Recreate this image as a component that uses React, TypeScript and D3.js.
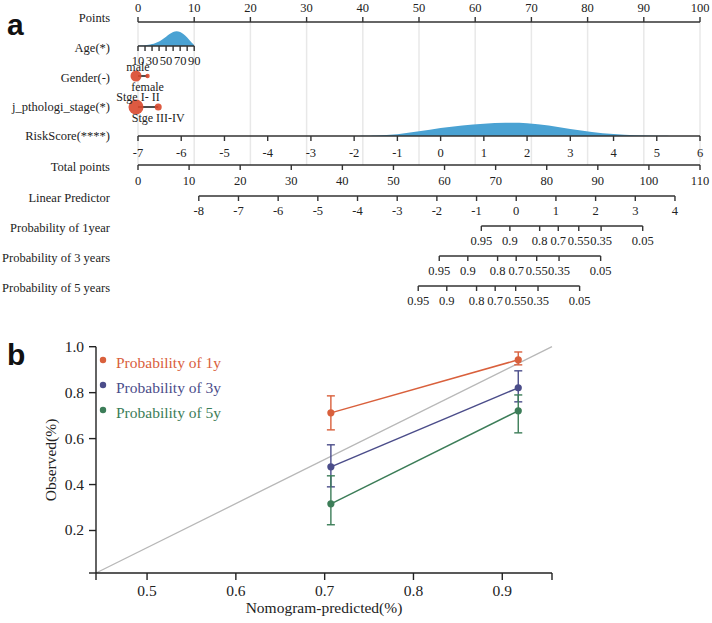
import React from "react";
import * as d3 from "d3";

// ---------- Nomogram data ----------
const rowNames = [
  "Points",
  "Age(*)",
  "Gender(-)",
  "j_pthologi_stage(*)",
  "RiskScore(****)",
  "Total points",
  "Linear Predictor",
  "Probability of 1year",
  "Probability of 3 years",
  "Probability of 5 years",
];
const pointsTicks = [0, 10, 20, 30, 40, 50, 60, 70, 80, 90, 100];
const ageTicks = [10, 20, 30, 40, 50, 60, 70, 80, 90];
const ageLabels = [10, 30, 50, 70, 90];
const ageDensAge = [10, 15, 20, 25, 30, 35, 40, 45, 50, 55, 60, 65, 70, 75, 80, 85, 90];
const ageDensVal = [0.02, 0.03, 0.05, 0.08, 0.12, 0.2, 0.3, 0.45, 0.62, 0.8, 0.95, 1.0, 0.95, 0.8, 0.58, 0.3, 0.06];
const ageMaxPoints = 10;
const genderCats = ["male", "female"];
const genderPoints = [0, 1.7];
const genderFreq = [5.5, 2.2];
const stageCats = ["Stge I- II", "Stge III-IV"];
const stagePoints = [0, 3.6];
const stageFreq = [7.5, 3.5];
const riskTicks = [-7, -6, -5, -4, -3, -2, -1, 0, 1, 2, 3, 4, 5, 6];
const riskDensScore = [-2, -1.5, -1, -0.5, 0, 0.5, 1, 1.5, 2, 2.5, 3, 3.5, 4, 4.5, 5, 5.5];
const riskDensVal = [0, 0.03, 0.1, 0.34, 0.6, 0.8, 0.92, 1.0, 0.98, 0.8, 0.5, 0.28, 0.13, 0.05, 0.01, 0];
const totalTicks = [0, 10, 20, 30, 40, 50, 60, 70, 80, 90, 100, 110];
const lpTicks = [-8, -7, -6, -5, -4, -3, -2, -1, 0, 1, 2, 3, 4];
const lpTotalAnchor = [11.9, 105.1]; // total points at lp -8 and lp 4
const probTicks = [0.95, 0.9, 0.8, 0.7, 0.55, 0.35, 0.05];
const baselineLogCumHaz = [-2.09, -1.03, -0.5]; // 1, 3, 5 years

// ---------- Calibration data ----------
const calPredicted = [0.707, 0.918];
const calSeries = ["Probability of 1y", "Probability of 3y", "Probability of 5y"];
const calObs1 = [0.712, 0.943];
const calLo1 = [0.638, 0.921];
const calHi1 = [0.786, 0.977];
const calObs3 = [0.477, 0.821];
const calLo3 = [0.39, 0.76];
const calHi3 = [0.573, 0.895];
const calObs5 = [0.316, 0.721];
const calLo5 = [0.225, 0.625];
const calHi5 = [0.438, 0.79];
const calXTicks = [0.5, 0.6, 0.7, 0.8, 0.9];
const calYTicks = [0.2, 0.4, 0.6, 0.8, 1.0];
const calColors = ["#d9603c", "#4b4d8a", "#3c7d58"];

const SERIF = "'Liberation Serif', 'Times New Roman', serif";
const SANS = "'Liberation Sans', Arial, sans-serif";

export default function App() {
  // Nomogram scales
  const x0 = 138, x1 = 700;
  const ptsX = d3.scaleLinear().domain([0, 100]).range([x0, x1]);
  const ageX = d3.scaleLinear().domain([10, 90]).range([ptsX(0), ptsX(ageMaxPoints)]);
  const riskX = d3.scaleLinear().domain([-7, 6]).range([x0, x1]);
  const totalX = d3.scaleLinear().domain([0, 110]).range([x0, x1]);
  const lpX = d3.scaleLinear().domain([-8, 4]).range([totalX(lpTotalAnchor[0]), totalX(lpTotalAnchor[1])]);
  const probToLp = (p: number, h: number) => Math.log(-Math.log(p)) - h;

  const rowY = [22, 46, 76, 107, 136, 165, 196, 226, 256, 286];
  const labelBase = [22, 52, 82, 111, 140, 171, 202, 232, 262, 292];
  const axisColor = "#333";
  const tickFs = 12.5;

  const ageArea = d3
    .area<number>()
    .x((_, i) => ageX(ageDensAge[i]))
    .y0(rowY[1])
    .y1((d) => rowY[1] - d * 15)
    .curve(d3.curveBasis);
  const riskArea = d3
    .area<number>()
    .x((_, i) => riskX(riskDensScore[i]))
    .y0(rowY[4])
    .y1((d) => rowY[4] - d * 13.5)
    .curve(d3.curveBasis);

  // Calibration scales
  const bx = d3.scaleLinear().domain([0.4425, 0.956]).range([96, 552]);
  const by = d3.scaleLinear().domain([0.015, 1.0]).range([573, 346.7]);
  const calObs = [calObs1, calObs3, calObs5];
  const calLo = [calLo1, calLo3, calLo5];
  const calHi = [calHi1, calHi3, calHi5];
  const line = d3
    .line<number>()
    .x((_, i) => bx(calPredicted[i]))
    .y((d) => by(d));

  const hAxis = (
    scale: (v: number) => number,
    ticks: number[],
    y: number,
    labelY: number,
    fmt: (v: number) => string,
    up = false
  ) => (
    <g>
      <line
        x1={scale(ticks[0])}
        x2={scale(ticks[ticks.length - 1])}
        y1={y}
        y2={y}
        stroke={axisColor}
        strokeWidth={1.6}
      />
      {ticks.map((t, i) => (
        <g key={i}>
          <line x1={scale(t)} x2={scale(t)} y1={y} y2={up ? y - 5 : y + 5} stroke={axisColor} strokeWidth={1.4} />
          <text x={scale(t)} y={labelY} textAnchor="middle" fontSize={tickFs} fontFamily={SERIF} fill="#222">
            {fmt(t)}
          </text>
        </g>
      ))}
    </g>
  );

  return (
    <div style={{ position: "absolute", left: 0, top: 0 }}>
      <svg width={712} height={623} style={{ display: "block", background: "#fff" }}>
        {/* Panel label a */}
        <text x={7} y={35} fontSize={30} fontWeight="bold" fontFamily={SANS} fill="#111">
          a
        </text>

        {/* grid lines */}
        {pointsTicks.map((t, i) => (
          <line key={i} x1={ptsX(t)} x2={ptsX(t)} y1={rowY[0]} y2={rowY[5]} stroke="#e8e8e8" strokeWidth={1.5} />
        ))}

        {/* row labels */}
        {rowNames.map((n, i) => (
          <text key={n} x={110} y={labelBase[i]} textAnchor="end" fontSize={12.5} fontFamily={SERIF} fill="#222">
            {n}
          </text>
        ))}

        {/* Points axis */}
        {hAxis(ptsX, pointsTicks, rowY[0], 12, (v) => String(v), true)}

        {/* Age */}
        <path d={ageArea(ageDensVal) || ""} fill="#4aa2d3" />
        {hAxis(ageX, ageTicks, rowY[1], 65, (v) => (ageLabels.includes(v) ? String(v) : ""))}

        {/* Gender */}
        <line
          x1={ptsX(genderPoints[0])}
          x2={ptsX(genderPoints[1])}
          y1={rowY[2]}
          y2={rowY[2]}
          stroke="#222"
          strokeWidth={1.6}
        />
        {genderCats.map((c, i) => (
          <g key={c}>
            <circle cx={ptsX(genderPoints[i]) - (i === 0 ? 2 : 0)} cy={rowY[2]} r={genderFreq[i]} fill="#d9482c" opacity={0.9} />
            <text
              x={ptsX(genderPoints[i])}
              y={i === 0 ? rowY[2] - 5 : rowY[2] + 15}
              textAnchor="middle"
              fontSize={12}
              fontFamily={SERIF}
              fill="#222"
            >
              {c}
            </text>
          </g>
        ))}

        {/* Stage */}
        <line
          x1={ptsX(stagePoints[0])}
          x2={ptsX(stagePoints[1])}
          y1={rowY[3]}
          y2={rowY[3]}
          stroke="#222"
          strokeWidth={1.6}
        />
        {stageCats.map((c, i) => (
          <g key={c}>
            <circle cx={ptsX(stagePoints[i]) - (i === 0 ? 2 : 0)} cy={rowY[3]} r={stageFreq[i]} fill="#d9482c" opacity={0.9} />
            <text
              x={ptsX(stagePoints[i])}
              y={i === 0 ? rowY[3] - 6 : rowY[3] + 15}
              textAnchor="middle"
              fontSize={12}
              fontFamily={SERIF}
              fill="#222"
            >
              {c}
            </text>
          </g>
        ))}

        {/* RiskScore */}
        <path d={riskArea(riskDensVal) || ""} fill="#4aa2d3" />
        {hAxis(riskX, riskTicks, rowY[4], 157, (v) => String(v))}

        {/* Total points */}
        {hAxis(totalX, totalTicks, rowY[5], 185, (v) => String(v))}

        {/* Linear predictor */}
        {hAxis(lpX, lpTicks, rowY[6], 215, (v) => String(v))}

        {/* Probabilities */}
        {baselineLogCumHaz.map((h, k) => {
          const sc = (p: number) => lpX(probToLp(p, h));
          return (
            <g key={k}>
              {hAxis(sc, probTicks, rowY[7 + k], rowY[7 + k] + 19, (v) => String(v))}
            </g>
          );
        })}

        {/* ---------- Panel b ---------- */}
        <text x={7} y={365} fontSize={30} fontWeight="bold" fontFamily={SANS} fill="#111">
          b
        </text>

        {/* diagonal */}
        <line
          x1={bx(bx.domain()[0])}
          y1={by(by.domain()[0])}
          x2={bx(bx.domain()[1])}
          y2={by(by.domain()[1])}
          stroke="#b8b8b8"
          strokeWidth={1.3}
        />

        {/* axes */}
        <g stroke="#222" strokeWidth={1.4}>
          <line x1={bx.range()[0]} x2={bx.range()[1]} y1={by.range()[0]} y2={by.range()[0]} />
          <line x1={bx.range()[0]} x2={bx.range()[0]} y1={by.range()[0]} y2={by.range()[1]} />
          {[bx.domain()[0], ...calXTicks, bx.domain()[1]].map((t, i) => (
            <line key={"xt" + i} x1={bx(t)} x2={bx(t)} y1={by.range()[0]} y2={by.range()[0] + 7} />
          ))}
          {[by.domain()[0], ...calYTicks].map((t, i) => (
            <line key={"yt" + i} x1={bx.range()[0] - 7} x2={bx.range()[0]} y1={by(t)} y2={by(t)} />
          ))}
        </g>
        {calXTicks.map((t) => (
          <text key={t} x={bx(t)} y={596} textAnchor="middle" fontSize={15.5} fontFamily={SERIF} fill="#222">
            {t.toFixed(1)}
          </text>
        ))}
        {calYTicks.map((t) => (
          <text key={t} x={84} y={by(t) + 5} textAnchor="end" fontSize={15.5} fontFamily={SERIF} fill="#222">
            {t.toFixed(1)}
          </text>
        ))}
        <text x={324} y={613} textAnchor="middle" fontSize={15.5} fontFamily={SERIF} fill="#222">
          Nomogram-predicted(%)
        </text>
        <text
          transform={`translate(56,460) rotate(-90)`}
          textAnchor="middle"
          fontSize={15.5}
          fontFamily={SERIF}
          fill="#222"
        >
          Observed(%)
        </text>

        {/* series */}
        {calSeries.map((s, k) => (
          <g key={s}>
            <path d={line(calObs[k]) || ""} fill="none" stroke={calColors[k]} strokeWidth={1.5} />
            {calPredicted.map((p, i) => (
              <g key={i} stroke={calColors[k]} strokeWidth={1.4}>
                <line x1={bx(p)} x2={bx(p)} y1={by(calLo[k][i])} y2={by(calHi[k][i])} />
                <line x1={bx(p) - 4} x2={bx(p) + 4} y1={by(calLo[k][i])} y2={by(calLo[k][i])} />
                <line x1={bx(p) - 4} x2={bx(p) + 4} y1={by(calHi[k][i])} y2={by(calHi[k][i])} />
                <circle cx={bx(p)} cy={by(calObs[k][i])} r={3.6} fill={calColors[k]} stroke="none" />
              </g>
            ))}
          </g>
        ))}

        {/* legend */}
        {calSeries.map((s, k) => (
          <g key={"lg" + s}>
            <circle cx={103} cy={360 + k * 25} r={3.2} fill={calColors[k]} />
            <text x={116} y={368 + k * 25} fontSize={15.5} fontFamily={SERIF} fill={calColors[k]}>
              {s}
            </text>
          </g>
        ))}
      </svg>
    </div>
  );
}
